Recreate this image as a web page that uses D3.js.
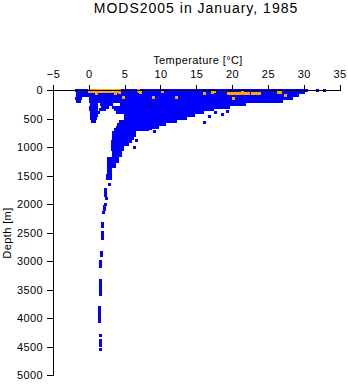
<!DOCTYPE html>
<html>
<head>
<meta charset="utf-8">
<script src="https://cdn.jsdelivr.net/npm/d3@7"></script>
<style>
  html, body { margin: 0; padding: 0; background: #fff; }
  svg { display: block; }
  text { font-family: "Liberation Sans", Arial, Helvetica, sans-serif; fill: #000; }
</style>
</head>
<body>
<svg id="chart" width="348" height="384"></svg>
<script>
// Axis ticks
const tempTicks = [-5, 0, 5, 10, 15, 20, 25, 30, 35];
const depthTicks = [0, 500, 1000, 1500, 2000, 2500, 3000, 3500, 4000, 4500, 5000];

// Dense blue observations: [depth m, first temp °C, last temp °C] of a contiguous run of points at that depth
const blueRuns = [
  [0, -1.71, 30.36],
  [50, -1.57, 29.94],
  [100, -1.57, 29.1],
  [150, -1.71, -1.15], [150, 0.25, 28.26],
  [200, -1.57, -1.29], [200, 0.25, 26.86],
  [250, 0.39, 1.09], [250, 1.79, 3.2], [250, 4.6, 21.68],
  [300, 0.25, 1.09], [300, 1.93, 2.63], [300, 3.47, 19.44],
  [350, 0.25, 1.09], [350, 1.65, 2.21], [350, 3.75, 17.2],
  [400, 0.39, 1.37], [400, 4.03, 15.94],
  [450, 0.32, 1.09], [450, 5.15, 14.68],
  [500, 0.32, 0.95], [500, 5.15, 13.56],
  [550, 0.53, 0.81], [550, 4.45, 12.16],
  [600, 4.17, 10.62],
  [650, 4.03, 9.64],
  [700, 3.75, 8.24],
  [750, 3.47, 6.41],
  [800, 3.47, 6.41],
  [850, 3.47, 6.13],
  [900, 3.33, 5.85],
  [950, 3.33, 5.43],
  [1000, 3.33, 4.73],
  [1050, 3.33, 4.73],
  [1100, 3.47, 4.45],
  [1150, 3.47, 4.45],
  [1200, 2.77, 4.03],
  [1250, 2.77, 4.03],
  [1300, 2.77, 3.61],
  [1350, 2.77, 3.61],
  [1400, 2.77, 3.05],
  [1450, 2.77, 3.05],
  [1500, 2.63, 3.05],
  [1550, 2.63, 3.05]
];

// Scattered blue observations: [temp °C, depth m]
const bluePoints = [
  [31.97, 0], [32.95, 0],
  [19.3, 380], [17.7, 390], [18.6, 430], [16.9, 460], [16.15, 570],
  [8.6, 680], [9.2, 730], [6.62, 880], [6.41, 1000],
  [2.9, 1650], [2.38, 1750], [2.38, 1800], [2.3, 1850], [2.42, 1900],
  [2.3, 2000], [2.2, 2050], [2.15, 2100], [2.1, 2150],
  [1.95, 2350], [1.9, 2400], [1.9, 2500], [1.85, 2550], [1.85, 2600],
  [1.72, 2850], [1.72, 2900], [1.65, 3000], [1.65, 3050], [1.6, 3090],
  [1.6, 3340], [1.6, 3390], [1.6, 3440], [1.6, 3490], [1.6, 3540], [1.6, 3580],
  [1.5, 3820], [1.55, 3870], [1.55, 3920], [1.55, 3970], [1.55, 4020], [1.55, 4070],
  [1.6, 4300], [1.6, 4390], [1.6, 4440], [1.6, 4490], [1.6, 4555]
];

// Orange observations drawn on top: runs [depth, first temp, last temp] and single points [temp, depth]
const orangeRuns = [
  [0, 0.15, 4.27],
  [25, 0.15, 4.27],
  [60, 19.54, 22.24],
  [60, 22.8, 23.78]
];
const orangePoints = [
  [1.1, 60], [3.7, 60], [4.3, 45], [4.83, 125],
  [6.9, 0], [7.05, 25], [7.15, 50],
  [10.3, 30], [9.05, 128], [12.18, 137],
  [16.1, 65], [17.6, 20], [17.2, 50],
  [21.5, 30], [20.17, 155],
  [26.45, 50], [26.75, 40], [27.45, 105]
];

const BLUE = "#0000ff";
const ORANGE = "#ffa500";
const MARK = 3; // marker edge, px

const svg = d3.select("#chart");

const x = d3.scaleLinear().domain([-5, 35]).range([53, 339.5]);
const y = d3.scaleLinear().domain([0, 5000]).range([90, 375]);

// Title and axis labels
svg.append("text")
  .attr("x", 196).attr("y", 13)
  .attr("text-anchor", "middle")
  .style("font-size", "14px").style("letter-spacing", "1px")
  .text("MODS2005 in January, 1985");

svg.append("text")
  .attr("x", 198).attr("y", 64)
  .attr("text-anchor", "middle")
  .style("font-size", "11px").style("letter-spacing", "0.4px")
  .text("Temperature [°C]");

svg.append("text")
  .attr("transform", "translate(11,233) rotate(-90)")
  .attr("text-anchor", "middle")
  .style("font-size", "11px").style("letter-spacing", "0.4px")
  .text("Depth [m]");

// Marks
const marks = svg.append("g").attr("shape-rendering", "crispEdges");

function drawRuns(rows, color) {
  marks.append("g").selectAll("rect")
    .data(rows)
    .join("rect")
    .attr("x", d => x(d[1]) - MARK / 2)
    .attr("y", d => y(d[0]) - MARK / 2)
    .attr("width", d => x(d[2]) - x(d[1]) + MARK)
    .attr("height", MARK)
    .attr("fill", color);
}
function drawPoints(rows, color) {
  marks.append("g").selectAll("rect")
    .data(rows)
    .join("rect")
    .attr("x", d => x(d[0]) - MARK / 2)
    .attr("y", d => y(d[1]) - MARK / 2)
    .attr("width", MARK)
    .attr("height", MARK)
    .attr("fill", color);
}

drawRuns(blueRuns, BLUE);
drawPoints(bluePoints, BLUE);
drawRuns(orangeRuns, ORANGE);
drawPoints(orangePoints, ORANGE);

// Axes
const xAxis = svg.append("g")
  .attr("transform", "translate(0,90)")
  .call(d3.axisTop(x).tickValues(tempTicks).tickFormat(d3.format("d")).tickSize(5).tickPadding(7));

const yAxis = svg.append("g")
  .attr("transform", "translate(53,0)")
  .call(d3.axisLeft(y).tickValues(depthTicks).tickFormat(d3.format("d")).tickSize(6).tickPadding(4));

[xAxis, yAxis].forEach(g => {
  g.selectAll("path, line").attr("stroke", "#000").attr("stroke-width", 1).attr("shape-rendering", "crispEdges");
  g.selectAll("text")
    .style("font-family", '"Liberation Sans", Arial, Helvetica, sans-serif')
    .style("font-size", "11px")
    .style("letter-spacing", "0.4px");
});
</script>
</body>
</html>
